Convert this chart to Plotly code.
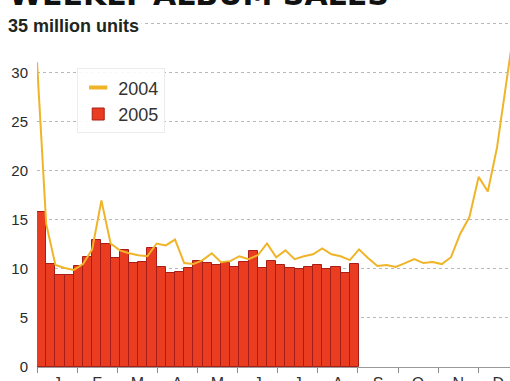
import plotly.graph_objects as go

# ---- data ----
months = ["J", "F", "M", "A", "M", "J", "J", "A", "S", "O", "N", "D"]
y_ticks = [0, 5, 10, 15, 20, 25, 30]

sales_2004 = [31.1, 14.6, 10.4, 10.1, 9.9, 10.5, 12.0, 17.0, 12.6, 11.9,
              11.6, 11.4, 11.3, 12.6, 12.4, 13.0, 10.6, 10.5, 10.9, 11.6,
              10.7, 10.8, 11.3, 11.0, 11.4, 12.6, 11.2, 11.9, 11.0, 11.3,
              11.5, 12.1, 11.5, 11.3, 10.9, 12.0, 11.1, 10.3, 10.4, 10.2,
              10.6, 11.0, 10.6, 10.7, 10.5, 11.2, 13.6, 15.3, 19.4, 17.9,
              22.4, 28.8, 35.5]

sales_2005 = [15.8, 10.5, 9.4, 9.4, 10.3, 11.2, 13.0, 12.6, 11.1, 11.9,
              10.6, 10.7, 12.1, 10.2, 9.6, 9.7, 10.1, 10.8, 10.6, 10.4,
              10.6, 10.2, 10.7, 11.8, 10.1, 10.8, 10.4, 10.1, 10.0, 10.2,
              10.4, 10.0, 10.2, 9.6, 10.5]

weeks_2004 = list(range(len(sales_2004)))
weeks_2005 = [i + 0.5 for i in range(len(sales_2005))]

WEEKS_PER_MONTH = 4.36
month_edges = [k * WEEKS_PER_MONTH for k in range(13)]
month_mids = [(k + 0.5) * WEEKS_PER_MONTH for k in range(12)]

FONT = "Liberation Sans, Arial, sans-serif"
LINE_COLOR = "#f0b428"

fig = go.Figure()

fig.add_trace(go.Scatter(
    x=weeks_2004, y=sales_2004, name="2004", mode="lines",
    line=dict(color=LINE_COLOR, width=2), showlegend=False,
))

# legend key for 2004: short thick dash, as in the original
fig.add_trace(go.Scatter(
    x=[None], y=[None], name="2004", mode="markers",
    marker=dict(symbol="line-ew", size=13, color=LINE_COLOR,
                line=dict(color=LINE_COLOR, width=4)),
))

fig.add_trace(go.Bar(
    x=weeks_2005, y=sales_2005, name="2005",
    marker=dict(color="#ea3c20", line=dict(color="#a81e16", width=1)),
    width=1.0,
))

fig.update_layout(
    width=510, height=381,
    margin=dict(l=37, r=0, t=21, b=14, autoexpand=False),
    paper_bgcolor="white", plot_bgcolor="white",
    bargap=0,
    showlegend=True,
    legend=dict(
        x=0.085, y=0.863, xanchor="left", yanchor="top",
        font=dict(family=FONT, size=18, color="#333333"),
        bgcolor="rgba(255,255,255,0.9)",
        bordercolor="#ececec", borderwidth=1,
        itemwidth=30, tracegroupgap=0,
    ),
    xaxis=dict(
        range=[0, 51.41], automargin=False,
        tickmode="array", tickvals=month_mids, ticktext=months,
        ticks="", showgrid=False, zeroline=False,
        showline=True, linecolor="#9a9a9a", linewidth=1,
        tickfont=dict(family=FONT, size=16, color="#333333"),
        ticklabelstandoff=2,
        minor=dict(tickmode="array", tickvals=month_edges, ticks="outside",
                   ticklen=5, tickcolor="#8a8a8a", tickwidth=1, showgrid=False),
    ),
    yaxis=dict(
        range=[0, 35.3], automargin=False,
        tickmode="array", tickvals=y_ticks + [35],
        ticktext=[str(v) for v in y_ticks] + [""],
        ticks="", ticklabelstandoff=8,
        showgrid=True, gridcolor="#b8b8b8", griddash="dot", gridwidth=1,
        zeroline=False, showline=False,
        tickfont=dict(family=FONT, size=15, color="#2a2a2a"),
    ),
    annotations=[
        dict(text="<b>35 million units</b>", xref="paper", yref="y",
             x=-0.068, y=35, xanchor="left", yanchor="middle", yshift=-2,
             showarrow=False, bgcolor="white", borderpad=2,
             font=dict(family=FONT, size=18, color="#1e261e")),
        dict(text="<b>WEEKLY ALBUM SALES</b>", xref="paper", yref="paper",
             x=-0.062, y=1.023, xanchor="left", yanchor="bottom",
             showarrow=False, borderpad=0,
             font=dict(family="DejaVu Sans, sans-serif", size=30, color="#111111")),
    ],
)

fig.write_html("out.html",
               config={"displayModeBar": False},
               post_script="document.body.style.margin='0';document.body.style.padding='0';")
